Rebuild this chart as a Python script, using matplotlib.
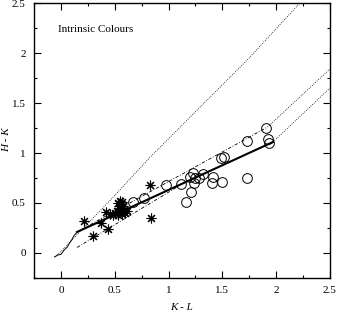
import matplotlib
matplotlib.use("Agg")
import matplotlib.pyplot as plt
from matplotlib.ticker import MultipleLocator, FormatStrFormatter

# ---- data ----
bb_x = [-0.05, 0.46, 0.83, 1.73, 2.22]
bb_y = [-0.04, 0.53, 0.96, 1.93, 2.50]

locus_x = [-0.06, -0.03, 0.0, 0.03, 0.06, 0.08, 0.10, 0.12, 0.15]
locus_y = [-0.04, -0.02, -0.015, 0.03, 0.06, 0.10, 0.13, 0.17, 0.21]

main_x = [0.15, 1.97]
main_y = [0.21, 1.11]

upper_dd_x = [0.15, 1.92]
upper_dd_y = [0.21, 1.26]
upper_dot_x = [1.92, 2.50]
upper_dot_y = [1.26, 1.84]

lower_dd_x = [0.15, 1.08]
lower_dd_y = [0.055, 0.66]
lower_dot_x = [1.97, 2.50]
lower_dot_y = [1.11, 1.65]

star_x = [0.21, 0.42, 0.37, 0.30, 0.44, 0.46, 0.53, 0.55, 0.57, 0.54, 0.56, 0.58,
          0.52, 0.55, 0.59, 0.57, 0.61, 0.50, 0.53, 0.60, 0.56, 0.48, 0.83, 0.84]
star_y = [0.32, 0.41, 0.30, 0.17, 0.24, 0.39, 0.50, 0.52, 0.51, 0.47, 0.45, 0.47,
          0.42, 0.41, 0.43, 0.39, 0.42, 0.40, 0.38, 0.40, 0.49, 0.38, 0.68, 0.35]

circ_x = [0.67, 0.77, 0.98, 1.12, 1.16, 1.20, 1.21, 1.23, 1.25, 1.24, 1.28, 1.32,
          1.41, 1.40, 1.50, 1.49, 1.52, 1.73, 1.73, 1.91, 1.92, 1.93]
circ_y = [0.51, 0.55, 0.68, 0.69, 0.51, 0.76, 0.61, 0.80, 0.75, 0.70, 0.75, 0.79,
          0.76, 0.70, 0.71, 0.95, 0.96, 0.75, 1.12, 1.25, 1.14, 1.10]

xticks = [0, 0.5, 1, 1.5, 2, 2.5]
yticks = [0, 0.5, 1, 1.5, 2, 2.5]

plt.rcParams['font.family'] = ['Liberation Serif', 'DejaVu Serif']

fig = plt.figure(figsize=(3.37, 3.13), dpi=100)
ax = fig.add_axes([0.101, 0.112, 0.878, 0.878])

dot = (0, (1, 1.6))
dashdot = (0, (4, 2, 1, 2))
ax.plot(bb_x, bb_y, color='black', lw=0.6, ls=dot)
ax.plot(upper_dot_x, upper_dot_y, color='black', lw=0.6, ls=dot)
ax.plot(lower_dot_x, lower_dot_y, color='black', lw=0.6, ls=dot)
ax.plot(upper_dd_x, upper_dd_y, color='black', lw=0.6, ls=dashdot)
ax.plot(lower_dd_x, lower_dd_y, color='black', lw=0.6, ls=dashdot)
ax.plot(locus_x, locus_y, color='black', lw=0.7)
ax.plot(main_x, main_y, color='black', lw=1.5)

ax.plot(star_x, star_y, ls='none', marker=(8, 2, 0), ms=7, mec='black',
        mew=0.8, color='black')
ax.plot(circ_x, circ_y, ls='none', marker='o', ms=7, mfc='none', mec='black',
        mew=0.7)

ax.text(-0.03, 2.24, 'Intrinsic Colours', fontsize=8, ha='left', va='center')

ax.set_xlim(-0.25, 2.5)
ax.set_ylim(-0.25, 2.5)
ax.set_xticks(xticks)
ax.set_yticks(yticks)
ax.xaxis.set_major_formatter(FormatStrFormatter('%g'))
ax.yaxis.set_major_formatter(FormatStrFormatter('%g'))
ax.xaxis.set_minor_locator(MultipleLocator(0.25))
ax.yaxis.set_minor_locator(MultipleLocator(0.25))
ax.tick_params(which='both', direction='in', top=True, right=True, labelsize=8,
               width=0.8)
ax.tick_params(which='major', length=5, pad=6)
ax.tick_params(which='minor', length=2.5)
for s in ax.spines.values():
    s.set_linewidth(1.0)

fig.text(182 / 337, 1 - 308 / 313, 'K - L', fontsize=8, style='italic',
         ha='center', va='center')
fig.text(7 / 337, 1 - 140 / 313, 'H - K', fontsize=8, style='italic',
         ha='center', va='center', rotation=90)

fig.savefig('out.png', dpi=100)
